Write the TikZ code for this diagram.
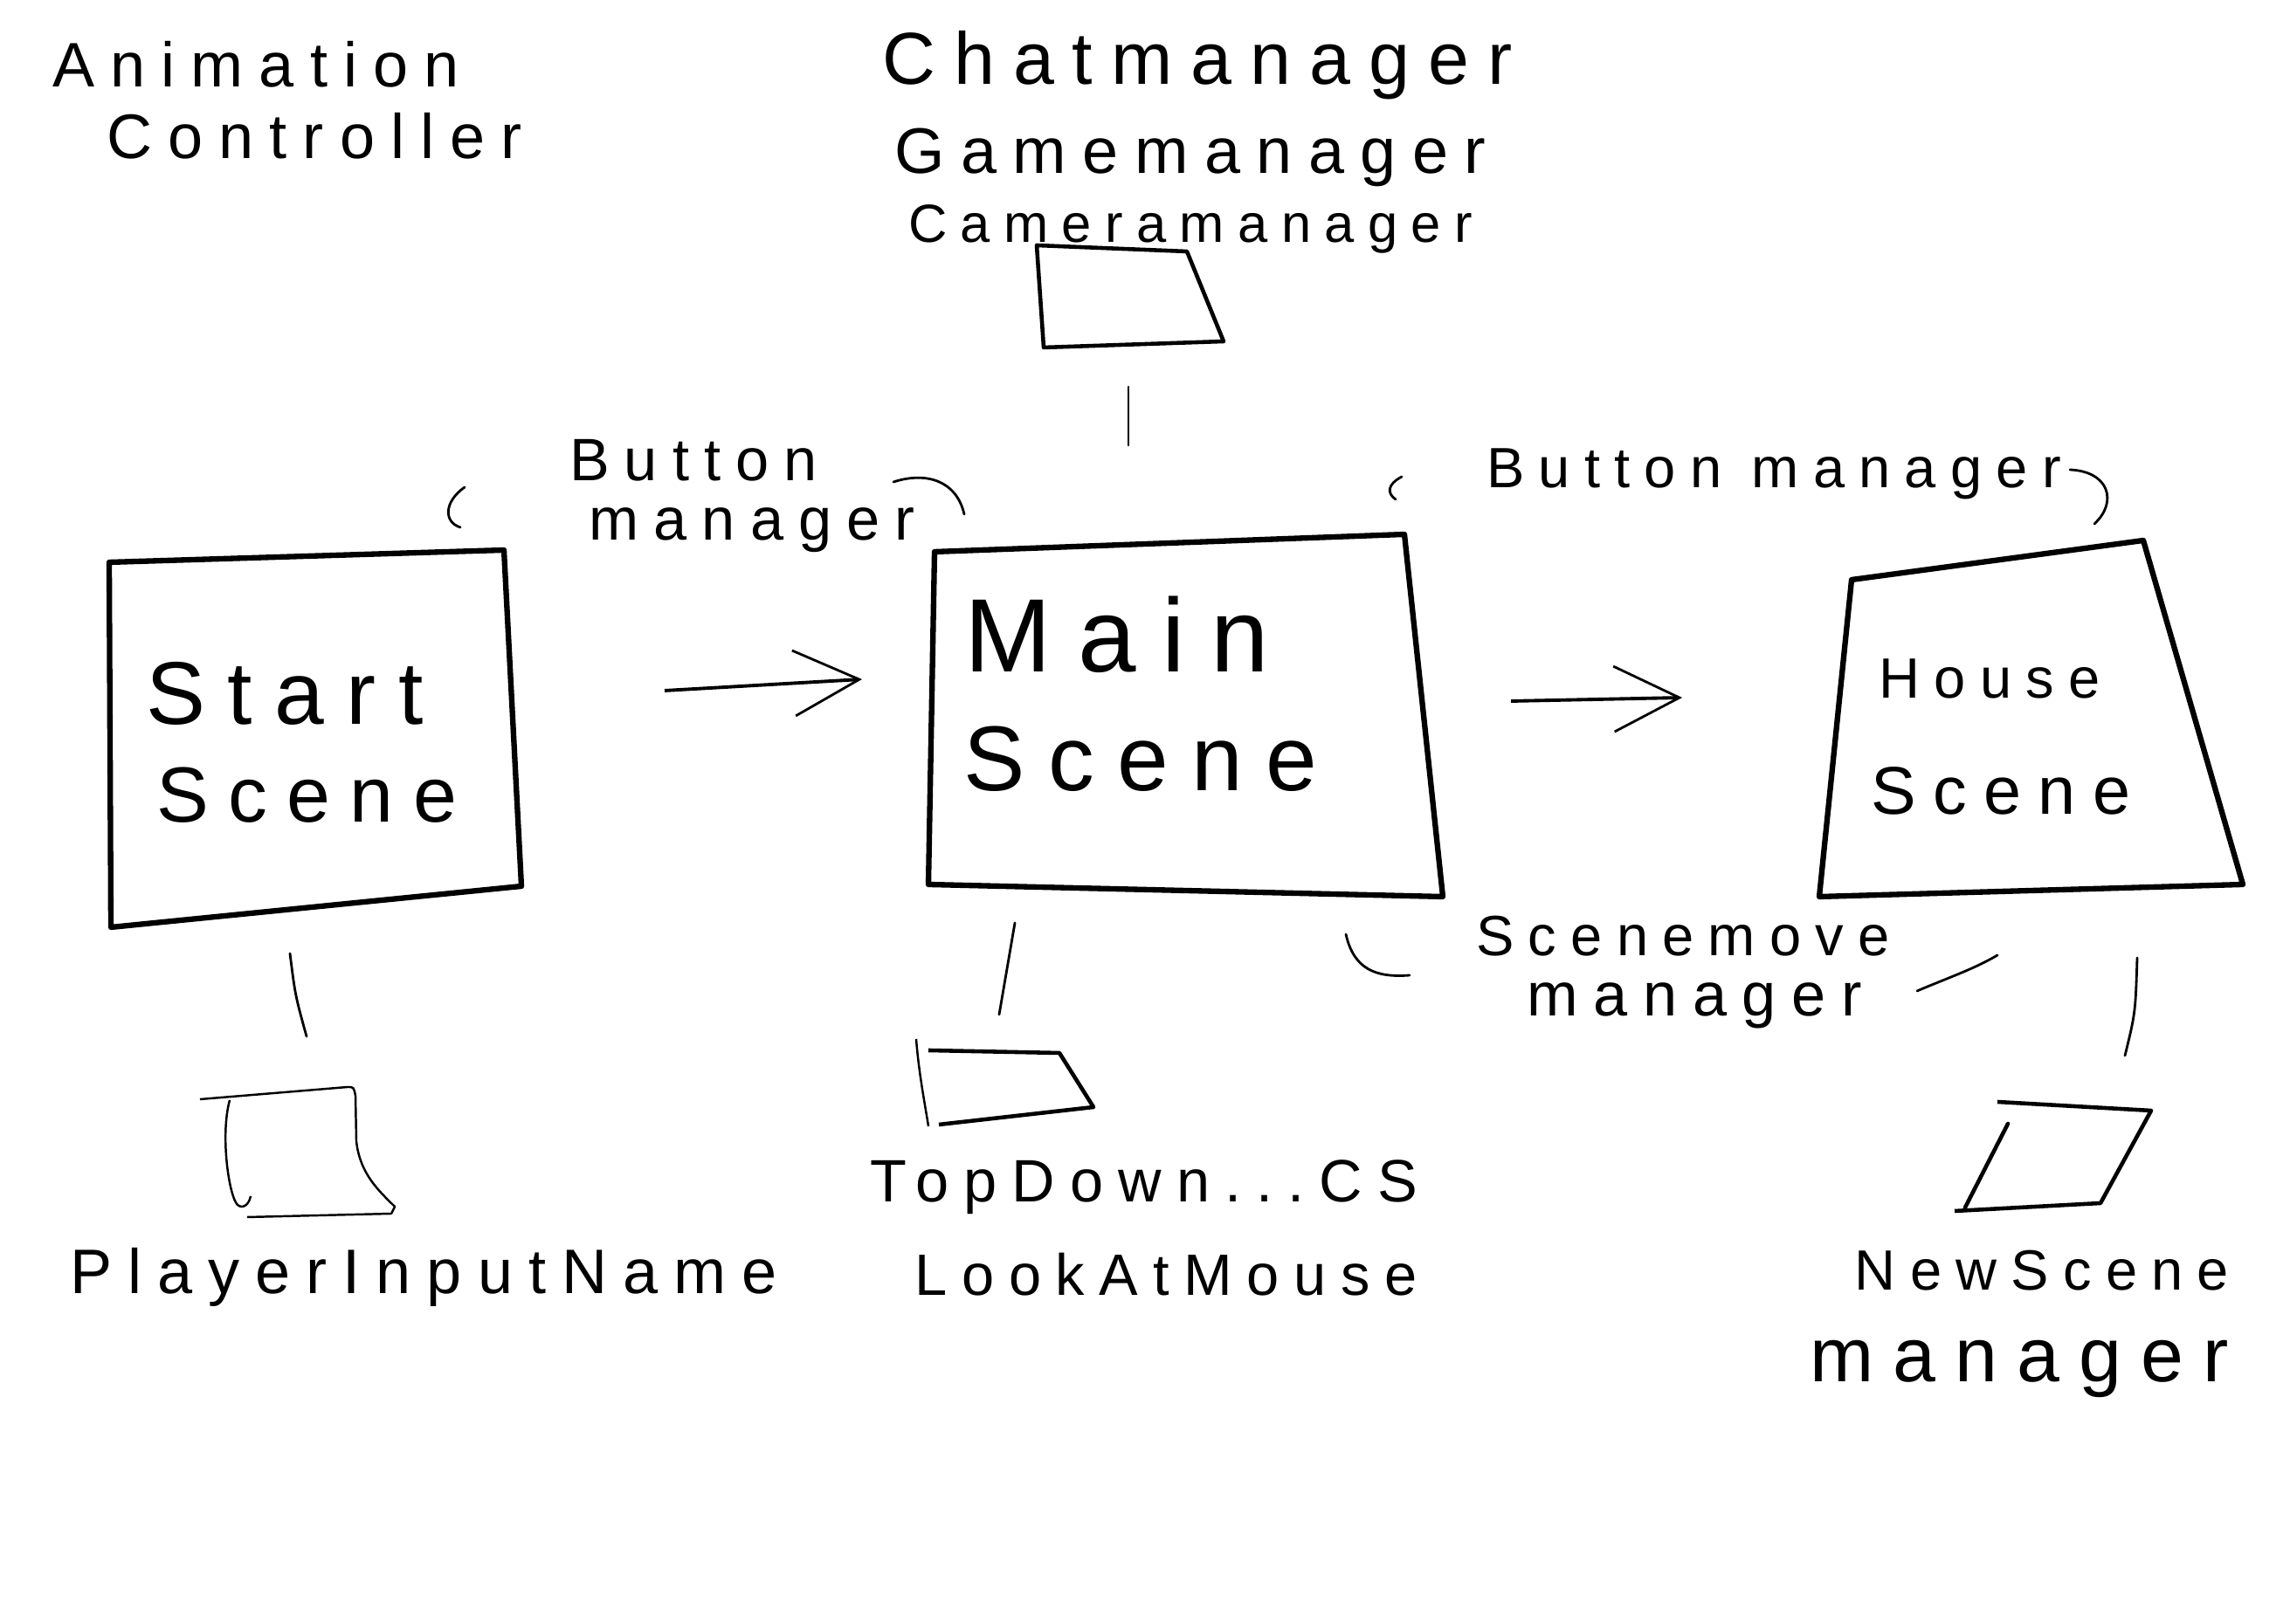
\documentclass[tikz,border=0pt]{standalone}
\usepackage{fontspec}
\usepackage{tikz}
\newfontfamily\handfont[LetterSpace=25]{Liberation Sans}
\usetikzlibrary{positioning, calc, arrows.meta}

\tikzset{
    scrawl/.style={font={\handfont\fontsize{#1pt}{#1pt}\selectfont}, inner sep=0pt},
    scrawl/.default=20,
    bigbox/.style={line width=1.8pt, line join=round},
    smallbox/.style={line width=1.3pt, line join=round},
    link/.style={line width=0.8pt, line cap=round},
    flow/.style={line width=1.1pt, -{Straight Barb[length=7.5mm, width=7.5mm, line width=0.8pt]}},
    brace/.style={line width=0.8pt, line cap=round}
}

\begin{document}
\begin{tikzpicture}[thick, >=stealth]

    \useasboundingbox (0, 0) rectangle (26.22, 18.60);

    % --- Notes at the top ---
    \node[scrawl=20.5] (anim) at (2.93, 17.86) {Animation};
    \node[scrawl=20.5] (ctrl) at (3.60, 17.04) {Controller};
    \node[scrawl=24] (chat) at (13.71, 17.85) {Chatmanager};
    \node[scrawl=21] (game) at (13.63, 16.80) {Gamemanager};
    \node[scrawl=17.5] (camera) at (13.63, 15.98) {Cameramanager};

    % --- Manager box on top ---
    \coordinate (mgr-nw) at (11.87, 15.79);
    \coordinate (mgr-ne) at (13.59, 15.72);
    \coordinate (mgr-se) at (14.01, 14.69);
    \coordinate (mgr-sw) at (11.95, 14.62);
    \draw[smallbox] (mgr-nw) -- (mgr-ne) -- (mgr-se) -- (mgr-sw) -- cycle;
    \coordinate (mgr-top) at (12.92, 14.17);
    \coordinate (mgr-bot) at (12.92, 13.50);
    \draw[link] (mgr-top) -- (mgr-bot);

    % --- Start Scene ---
    \coordinate (start-nw) at (1.25, 12.16);
    \coordinate (start-ne) at (5.77, 12.30);
    \coordinate (start-se) at (5.97, 8.45);
    \coordinate (start-sw) at (1.27, 7.98);
    \draw[bigbox] (start-nw) -- (start-ne) -- (start-se) -- (start-sw) -- cycle;
    \node[scrawl=29] (start) at (3.26, 10.66) {Start};
    \node[scrawl=25.5] (start-sc) at (3.51, 9.49) {Scene};

    % --- Main Scene ---
    \coordinate (main-nw) at (10.70, 12.28);
    \coordinate (main-ne) at (16.08, 12.48);
    \coordinate (main-se) at (16.52, 8.33);
    \coordinate (main-sw) at (10.63, 8.47);
    \draw[bigbox] (main-nw) -- (main-ne) -- (main-se) -- (main-sw) -- cycle;
    \node[scrawl=34] (main) at (12.79, 11.33) {Main};
    \node[scrawl=30] (main-sc) at (13.06, 9.91) {Scene};

    % --- House Scene ---
    \coordinate (house-nw) at (21.20, 11.96);
    \coordinate (house-ne) at (24.54, 12.41);
    \coordinate (house-se) at (25.68, 8.47);
    \coordinate (house-sw) at (20.83, 8.33);
    \draw[bigbox] (house-nw) -- (house-ne) -- (house-se) -- (house-sw) -- cycle;
    \node[scrawl=18.5] (house) at (22.78, 10.83) {House};
    \node[scrawl=22] (house-sc) at (22.91, 9.54) {Scene};

    % --- Scene flow arrows ---
    \coordinate (flowA-tail) at (7.61, 10.69);
    \coordinate (flowA-tip) at (9.87, 10.82);
    \draw[flow] (flowA-tail) -- (flowA-tip);
    \coordinate (flowB-tail) at (17.30, 10.57);
    \coordinate (flowB-tip) at (19.26, 10.61);
    \draw[flow] (flowB-tail) -- (flowB-tip);

    % --- Button managers ---
    \node[scrawl=19.5] (btnL) at (7.94, 13.33) {Button};
    \node[scrawl=19.5] (btnL-mgr) at (8.61, 12.53) {manager};
    \draw[brace] (5.32, 13.02) .. controls (5.08, 12.85) and (5.08, 12.62) .. (5.27, 12.56);
    \draw[brace] (10.23, 13.08) .. controls (10.60, 13.20) and (10.95, 13.10) .. (11.04, 12.71);
    \node[scrawl=18.5] (btnR) at (20.31, 13.17) {Button manager};
    \draw[brace] (16.05, 13.14) .. controls (15.88, 13.05) and (15.88, 12.95) .. (15.98, 12.88);
    \draw[brace] (23.70, 13.22) .. controls (24.15, 13.20) and (24.25, 12.85) .. (23.98, 12.60);

    % --- Scenemove manager ---
    \node[scrawl=18.5] (scmove) at (19.27, 7.88) {Scenemove};
    \node[scrawl=20] (scmove-mgr) at (19.40, 7.08) {manager};
    \draw[brace] (15.41, 7.90) .. controls (15.50, 7.50) and (15.75, 7.40) .. (16.14, 7.43);
    \draw[brace] (21.95, 7.25) .. controls (22.30, 7.40) and (22.60, 7.50) .. (22.87, 7.66);

    % --- Links below the scenes ---
    \coordinate (start-down) at (3.32, 7.68);
    \coordinate (player-up) at (3.51, 6.73);
    \draw[link] (start-down) .. controls (3.38, 7.20) .. (player-up);
    \coordinate (main-down) at (11.62, 8.03);
    \coordinate (topdown-up) at (11.44, 6.98);
    \draw[link] (main-down) -- (topdown-up);
    \coordinate (house-down) at (24.47, 7.63);
    \coordinate (newscene-up) at (24.33, 6.51);
    \draw[link] (house-down) .. controls (24.45, 7.00) .. (newscene-up);

    % --- PlayerInputName box ---
    \draw[line width=0.7pt, line join=round]
        (2.29, 6.01) -- (3.98, 6.15) .. controls (4.05, 6.15) .. (4.07, 6.05) -- (4.08, 5.53)
        .. controls (4.12, 5.15) and (4.35, 4.95) .. (4.52, 4.78)
        -- (4.48, 4.70) -- (2.83, 4.66);
    \draw[line width=0.7pt] (2.63, 6.00) .. controls (2.52, 5.60) and (2.62, 4.90) .. (2.72, 4.80)
        .. controls (2.78, 4.75) and (2.85, 4.80) .. (2.87, 4.90);
    \node[scrawl=20.5] (player) at (4.85, 3.97) {PlayerInputName};

    % --- TopDown / LookAtMouse box ---
    \coordinate (td-nw) at (10.63, 6.57);
    \coordinate (td-ne) at (12.13, 6.54);
    \coordinate (td-se) at (12.52, 5.92);
    \coordinate (td-sw) at (10.75, 5.72);
    \draw[smallbox] (td-nw) -- (td-ne) -- (td-se) -- (td-sw);
    \draw[line width=0.7pt] (10.49, 6.70) .. controls (10.52, 6.30) and (10.60, 5.90) .. (10.63, 5.70);
    \node[scrawl=19.5] (topdown) at (13.10, 5.00) {TopDown...CS};
    \node[scrawl=19] (lookat) at (13.35, 4.00) {LookAtMouse};

    % --- NewScene manager box ---
    \coordinate (ns-nw) at (22.87, 5.98);
    \coordinate (ns-ne) at (24.63, 5.88);
    \coordinate (ns-se) at (24.05, 4.82);
    \coordinate (ns-sw) at (22.38, 4.73);
    \draw[smallbox] (ns-nw) -- (ns-ne) -- (ns-se) -- (ns-sw);
    \draw[smallbox, line cap=round] (22.50, 4.77) -- (22.99, 5.73);
    \node[scrawl=18.5] (newscene) at (23.38, 4.05) {NewScene};
    \node[scrawl=25] (newscene-mgr) at (23.12, 2.92) {manager};

\end{tikzpicture}
\end{document}
